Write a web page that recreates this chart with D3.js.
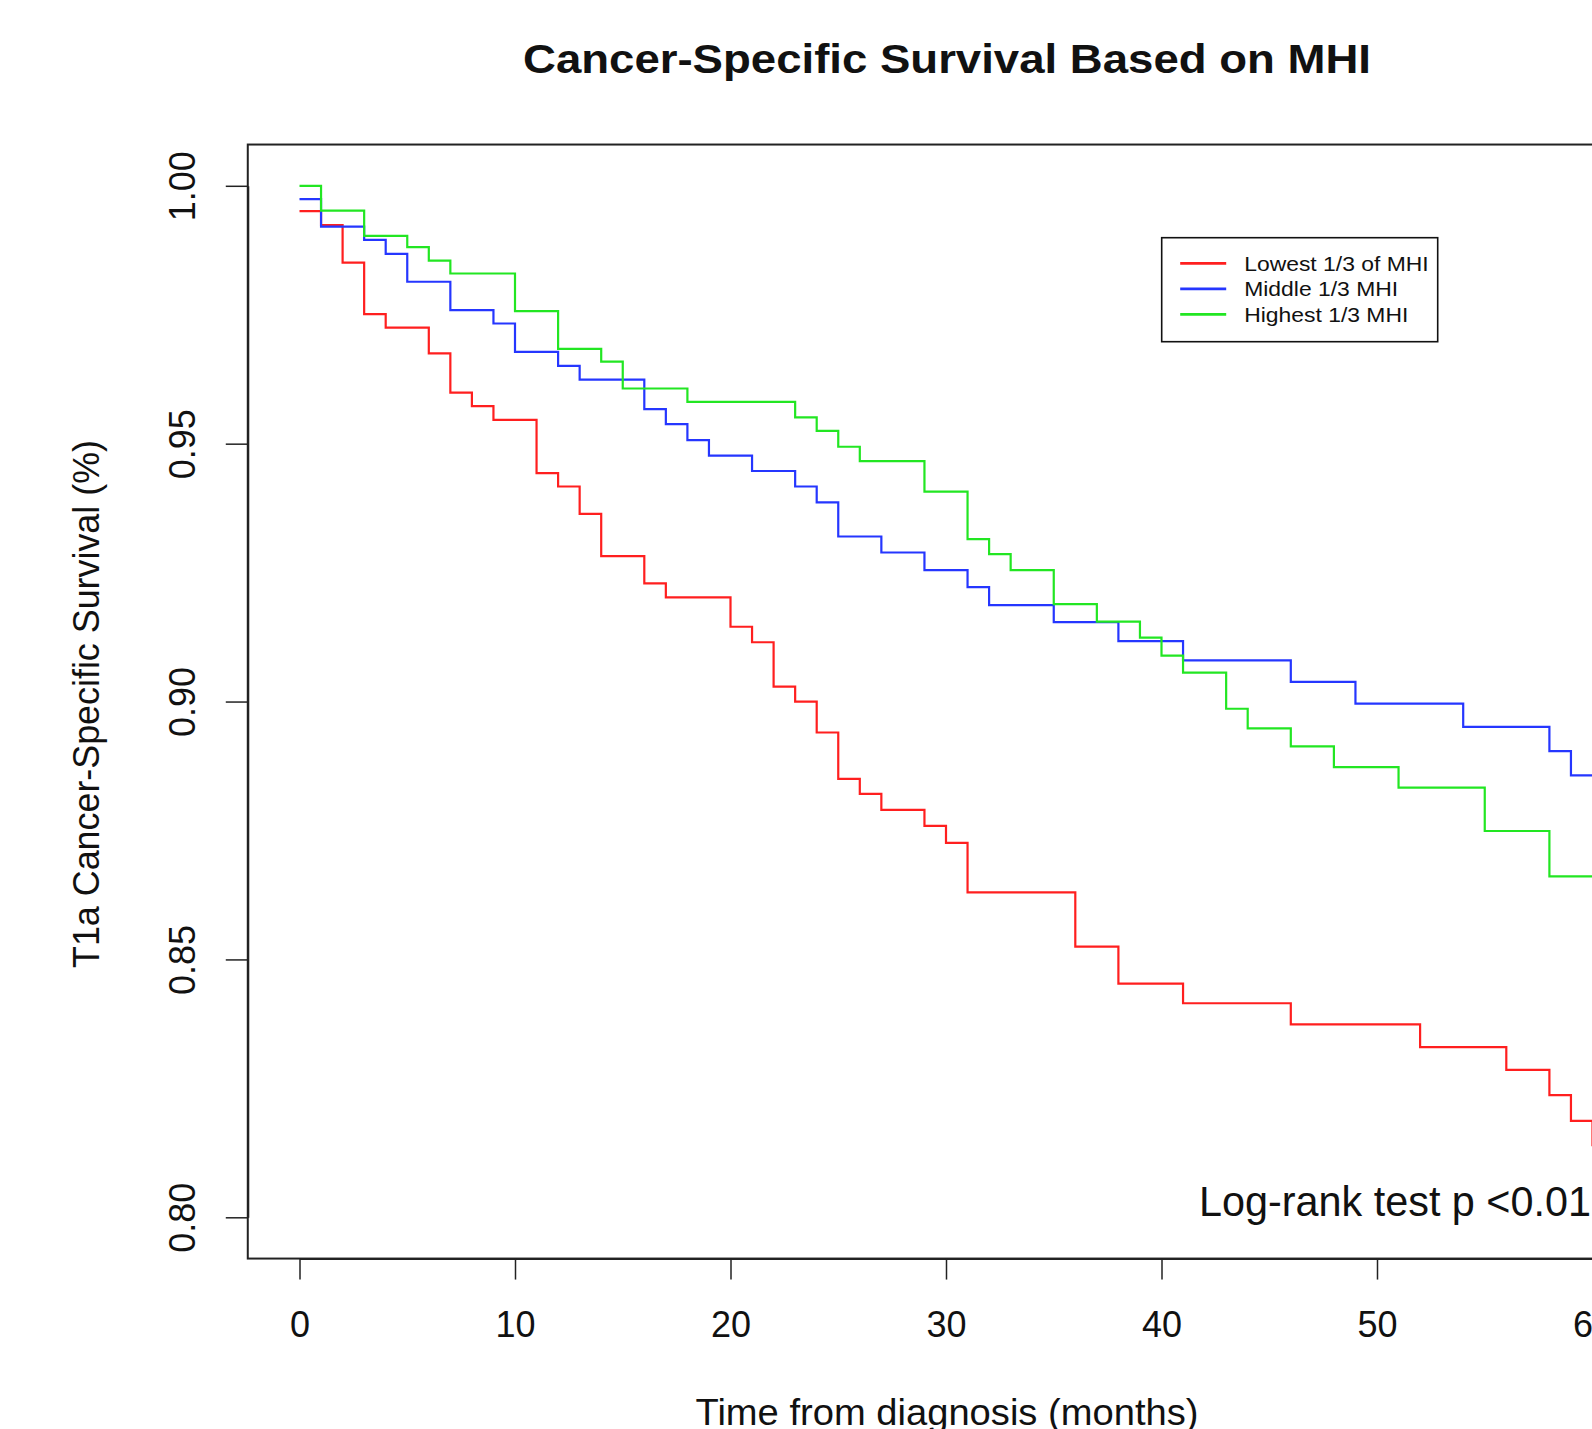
<!DOCTYPE html>
<html>
<head>
<meta charset="utf-8">
<script src="https://cdn.jsdelivr.net/npm/d3@7"></script>
<style>
  html, body { margin: 0; padding: 0; background: #fff; }
  svg { display: block; }
  text { font-family: "Liberation Sans", Arial, Helvetica, sans-serif; fill: #111; }
</style>
</head>
<body>
<svg id="chart" width="1592" height="1429"></svg>
<script>
// Kaplan-Meier steps (time in months, survival)
const lowTime  = [0, 1, 2, 3, 4, 6, 7, 8, 9, 11, 12, 13, 14, 16, 17, 20, 21, 22, 23, 24, 25, 26, 27, 29, 30, 31, 36, 38, 41, 46, 52, 56, 58, 59, 60];
const lowSurv  = [0.9951, 0.9924, 0.9851, 0.9751, 0.9725, 0.9675, 0.9599, 0.9573, 0.9546, 0.9443, 0.9417, 0.9364, 0.9282, 0.9229, 0.9202,
                  0.9145, 0.9115, 0.9029, 0.9000, 0.8940, 0.8850, 0.8821, 0.8790, 0.8759, 0.8726, 0.8630, 0.8525, 0.8453, 0.8415, 0.8374,
                  0.8330, 0.8286, 0.8237, 0.8187, 0.8140];

const midTime  = [0, 1, 3, 4, 5, 7, 9, 10, 12, 13, 16, 17, 18, 19, 21, 23, 24, 25, 27, 29, 31, 32, 35, 38, 41, 46, 49, 54, 58, 59];
const midSurv  = [0.9974, 0.9921, 0.9895, 0.9868, 0.9814, 0.9759, 0.9733, 0.9678, 0.9651, 0.9624, 0.9567, 0.9538, 0.9507, 0.9477, 0.9447,
                  0.9417, 0.9386, 0.9320, 0.9289, 0.9255, 0.9222, 0.9187, 0.9154, 0.9117, 0.9080, 0.9038, 0.8996, 0.8951, 0.8904, 0.8857];

const highTime = [0, 1, 3, 5, 6, 7, 10, 12, 14, 15, 18, 23, 24, 25, 26, 29, 31, 32, 33, 35, 37, 39, 40, 41, 43, 44, 46, 48, 51, 55, 58];
const highSurv = [1.0000, 0.9952, 0.9903, 0.9881, 0.9855, 0.9830, 0.9757, 0.9684, 0.9659, 0.9607, 0.9581, 0.9551, 0.9525, 0.9494, 0.9466,
                  0.9407, 0.9315, 0.9286, 0.9255, 0.9189, 0.9155, 0.9124, 0.9089, 0.9056, 0.8986, 0.8948, 0.8913, 0.8873, 0.8833, 0.8749, 0.8661];

const followUpEnd = 61;
const seriesNames  = ['Lowest 1/3 of MHI', 'Middle 1/3 MHI', 'Highest 1/3 MHI'];
const seriesColors = ['#ff1f1f', '#2536ff', '#22e622'];
const xTicks = [0, 10, 20, 30, 40, 50, 60];
const yTicks = [0.80, 0.85, 0.90, 0.95, 1.00];

const series = [
  { name: seriesNames[0], color: seriesColors[0], time: lowTime,  surv: lowSurv },
  { name: seriesNames[1], color: seriesColors[1], time: midTime,  surv: midSurv },
  { name: seriesNames[2], color: seriesColors[2], time: highTime, surv: highSurv }
];

const svg = d3.select('#chart');
svg.append('rect').attr('width', 1592).attr('height', 1429).attr('fill', '#fff');

const x = d3.scaleLinear().domain([0, 60]).range([299.5, 1592.5]);
const y = d3.scaleLinear().domain([0.8, 1.0]).range([1217.3, 185.8]);

// R-style 4% padding around the data range for the box
const xPad = 60 * 0.04, yPad = 0.2 * 0.04;
const boxL = x(-xPad), boxR = x(60 + xPad), boxT = y(1.0 + yPad), boxB = y(0.8 - yPad);

// curves
const line = d3.line()
  .x(d => x(d[0]))
  .y(d => y(d[1]))
  .curve(d3.curveStepAfter);

series.forEach(s => {
  const pts = s.time.map((t, i) => [t, s.surv[i]]);
  pts.push([followUpEnd, s.surv[s.surv.length - 1]]);
  svg.append('path')
    .datum(pts)
    .attr('fill', 'none')
    .attr('stroke', s.color)
    .attr('stroke-width', 2.2)
    .attr('d', line);
});

// plot box
svg.append('rect')
  .attr('x', boxL).attr('y', boxT)
  .attr('width', boxR - boxL).attr('height', boxB - boxT)
  .attr('fill', 'none')
  .attr('stroke', '#222')
  .attr('stroke-width', 2);

// x axis
const xAxis = svg.append('g')
  .attr('transform', `translate(0,${boxB})`)
  .call(d3.axisBottom(x).tickValues(xTicks).tickSize(21).tickSizeOuter(0).tickPadding(32));
xAxis.select('.domain').attr('stroke', '#222').attr('stroke-width', 2);
xAxis.selectAll('.tick line').attr('stroke', '#222').attr('stroke-width', 1.5);
xAxis.selectAll('.tick text')
  .attr('font-family', '"Liberation Sans", Arial, sans-serif')
  .attr('font-size', 36)
  .attr('fill', '#111');

// y axis
const yAxis = svg.append('g')
  .attr('transform', `translate(${boxL},0)`)
  .call(d3.axisLeft(y).tickValues(yTicks).tickSize(22).tickSizeOuter(0).tickFormat(d3.format('.2f')));
yAxis.select('.domain').attr('stroke', '#222').attr('stroke-width', 2);
yAxis.selectAll('.tick line').attr('stroke', '#222').attr('stroke-width', 1.5);
yAxis.selectAll('.tick text')
  .attr('font-family', '"Liberation Sans", Arial, sans-serif')
  .attr('font-size', 36)
  .attr('fill', '#111')
  .attr('text-anchor', 'middle')
  .attr('transform', 'rotate(-90)')
  .attr('x', 0)
  .attr('y', -53)
  .attr('dy', 0);

// title
svg.append('text')
  .attr('x', 947).attr('y', 73)
  .attr('text-anchor', 'middle')
  .attr('font-size', 41)
  .attr('font-weight', 'bold')
  .attr('textLength', 848)
  .attr('lengthAdjust', 'spacingAndGlyphs')
  .text('Cancer-Specific Survival Based on MHI');

// axis titles
svg.append('text')
  .attr('x', 947).attr('y', 1425)
  .attr('text-anchor', 'middle')
  .attr('font-size', 37)
  .attr('textLength', 503)
  .attr('lengthAdjust', 'spacingAndGlyphs')
  .text('Time from diagnosis (months)');

svg.append('text')
  .attr('transform', 'translate(99,704) rotate(-90)')
  .attr('text-anchor', 'middle')
  .attr('font-size', 36)
  .attr('textLength', 528)
  .attr('lengthAdjust', 'spacingAndGlyphs')
  .text('T1a Cancer-Specific Survival (%)');

// legend
const legend = svg.append('g').attr('transform', 'translate(1161.7,237.7)');
legend.append('rect')
  .attr('width', 276).attr('height', 104)
  .attr('fill', '#fff')
  .attr('stroke', '#111')
  .attr('stroke-width', 1.6);
const rowY = d3.scalePoint().domain(seriesNames).range([25.6, 76.6]);
series.forEach(s => {
  legend.append('line')
    .attr('x1', 18.5).attr('x2', 64.5)
    .attr('y1', rowY(s.name)).attr('y2', rowY(s.name))
    .attr('stroke', s.color)
    .attr('stroke-width', 2.8);
  const t = legend.append('text')
    .attr('x', 82.5).attr('y', rowY(s.name) + 7.5)
    .attr('font-size', 21)
    .attr('fill', '#2a2a2a')
    .text(s.name);
  // the original legend glyphs are a little wider than Liberation Sans
  t.attr('textLength', t.node().getComputedTextLength() * 1.09)
   .attr('lengthAdjust', 'spacingAndGlyphs');
});

// log-rank annotation
svg.append('text')
  .attr('x', 1199).attr('y', 1216)
  .attr('font-family', 'Lato, "Open Sans", sans-serif')
  .attr('font-size', 43)
  .attr('fill', '#000')
  .attr('textLength', 392)
  .attr('lengthAdjust', 'spacingAndGlyphs')
  .text('Log-rank test p <0.01');
</script>
</body>
</html>
